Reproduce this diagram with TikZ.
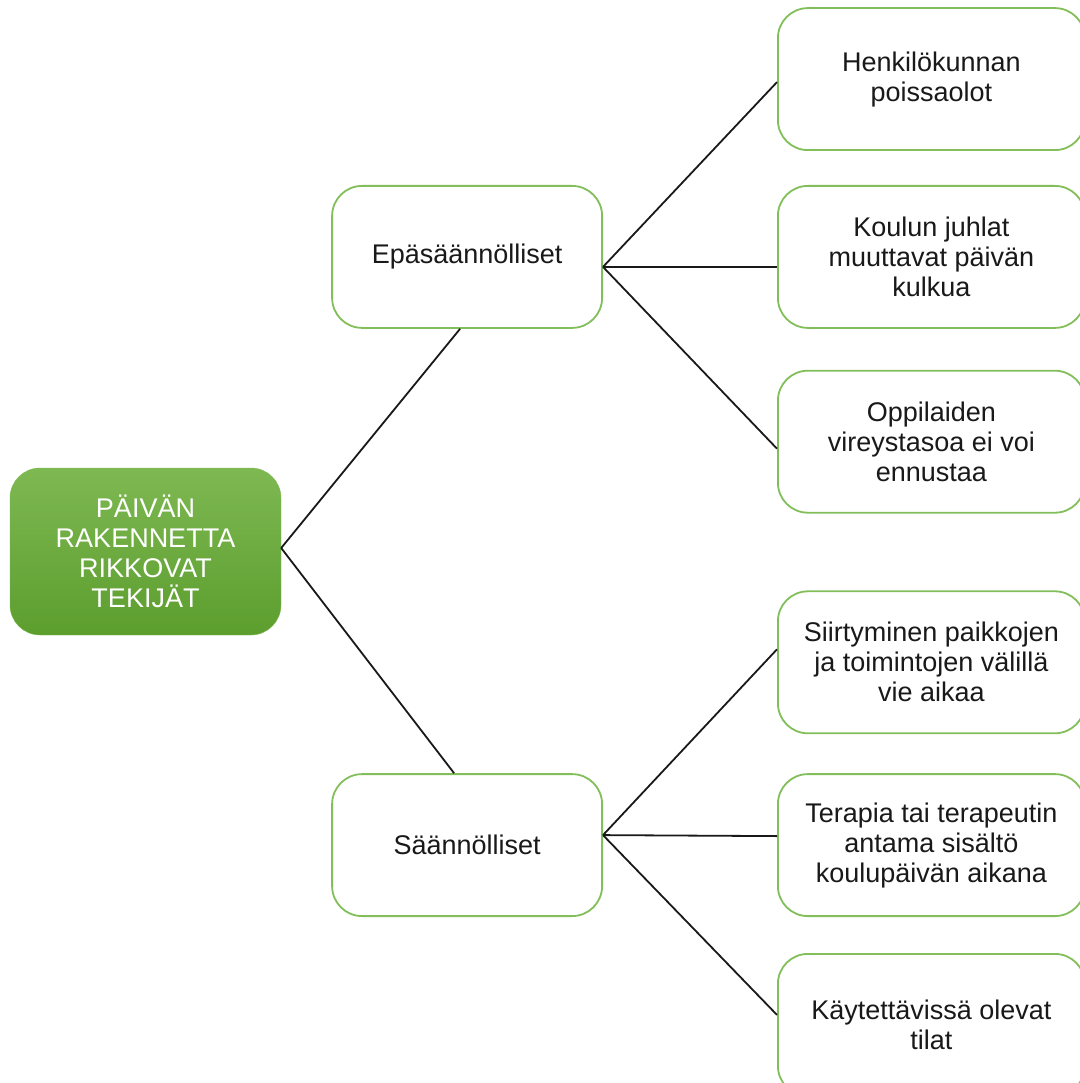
\documentclass[tikz,border=0pt]{standalone}
\usepackage{fontspec}
\setsansfont{Liberation Sans}
\usetikzlibrary{positioning}
\definecolor{boxgreen}{RGB}{130,190,90}
\definecolor{topgreen}{RGB}{126,184,82}
\definecolor{botgreen}{RGB}{92,158,46}
\definecolor{inktext}{RGB}{25,25,25}

\begin{document}
\begin{tikzpicture}[
            main/.style={rounded corners=30pt, minimum width=271pt, minimum height=167pt, top color=topgreen, bottom color=botgreen, draw=topgreen, text=white},
            group/.style={draw=boxgreen, line width=1.8pt, rounded corners=30pt, fill=white, minimum width=270pt, minimum height=142pt, text=inktext},
            item/.style={group, minimum width=307pt},
            every node/.style={align=center, font=\sffamily\fontsize{27}{30}\selectfont},
            link/.style={line width=1.8pt, draw=inktext}
  ]

  \useasboundingbox (0pt,0pt) rectangle (1079pt,-1083pt);

  \node[main] (root) at (145.5pt,-551.5pt) {PÄIVÄN\\RAKENNETTA\\RIKKOVAT\\TEKIJÄT};
  \node[group] (epa) [above right=139pt and 50pt of root] {Epäsäännölliset};
  \node[group] (saan) [below right=138pt and 50pt of root] {Säännölliset};

  \node[item] (henk) [right=174pt of epa] {Koulun juhlat\\muuttavat päivän\\kulkua};
  \node[item] (poissa) [above=34pt of henk] {Henkilökunnan\\poissaolot};
  \node[item] (vire) [below=41pt of henk] {Oppilaiden\\vireystasoa ei voi\\ennustaa};

  \node[item] (terapia) [right=174pt of saan] {Terapia tai terapeutin\\antama sisältö\\koulupäivän aikana};
  \node[item] (siirty) [above=39pt of terapia] {Siirtyminen paikkojen\\ja toimintojen välillä\\vie aikaa};
  \node[item] (tilat) [below=36pt of terapia] {Käytettävissä olevat\\tilat};

  \draw[link] ([yshift=3.5pt]root.east) -- ([xshift=-7pt]epa.south);
  \draw[link] ([yshift=3.5pt]root.east) -- ([xshift=-13pt]saan.north);

  \draw[link] ([yshift=-10pt]epa.east) -- ([yshift=-3pt]poissa.west);
  \draw[link] ([yshift=-10pt]epa.east) -- ([yshift=-10pt]henk.west);
  \draw[link] ([yshift=-10pt]epa.east) -- ([yshift=-7pt]vire.west);

  \draw[link] ([yshift=10pt]saan.east) -- ([yshift=13pt]siirty.west);
  \draw[link] ([yshift=10pt]saan.east) -- ([yshift=9pt]terapia.west);
  \draw[link] ([yshift=10pt]saan.east) -- ([yshift=10pt]tilat.west);

\end{tikzpicture}
\end{document}
